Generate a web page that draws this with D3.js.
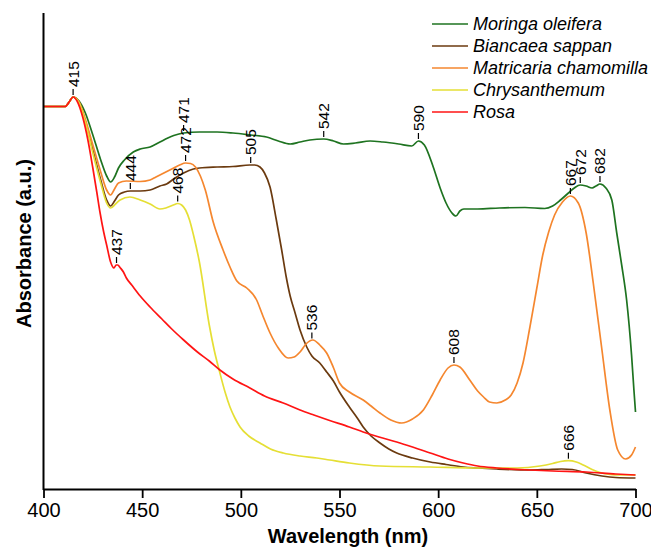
<!DOCTYPE html>
<html>
<head>
<meta charset="utf-8">
<script src="https://cdn.jsdelivr.net/npm/d3@7"></script>
<style>
  html, body { margin: 0; padding: 0; background: #fff; }
  svg { display: block; font-family: Arial, "Liberation Sans", sans-serif; }
</style>
</head>
<body>
<svg id="chart"></svg>
<script>
// ─── Data (wavelength in nm, absorbance in a.u.) ───────────────────────────
const seriesNames = ["Moringa oleifera", "Biancaea sappan", "Matricaria chamomilla", "Chrysanthemum", "Rosa"];
const seriesColors = ["#1e7320", "#6b3a0f", "#f5872f", "#e5df35", "#ff1414"];

const moringaNm = [400, 411, 413, 415, 418, 421, 425, 429, 432, 434, 436, 438, 441, 445.5, 449, 454, 459, 463, 466, 471, 479, 488, 496, 505, 513, 519, 525, 530, 535, 542, 547, 552, 558, 565.5, 572, 580, 586.6, 590, 593, 597.5, 601, 604, 607, 609, 611, 613, 620, 631, 644, 654, 658, 662, 666, 669, 672, 675, 678, 680, 682, 685, 688, 690.5, 693, 695.5, 698, 699.2, 700];
const moringaAbs = [3.825, 3.825, 3.87, 3.92, 3.88, 3.77, 3.54, 3.29, 3.13, 3.07, 3.12, 3.21, 3.29, 3.37, 3.40, 3.42, 3.47, 3.51, 3.535, 3.56, 3.57, 3.57, 3.56, 3.54, 3.52, 3.48, 3.45, 3.47, 3.49, 3.50, 3.48, 3.45, 3.46, 3.48, 3.47, 3.45, 3.43, 3.48, 3.44, 3.22, 3.01, 2.86, 2.76, 2.73, 2.78, 2.80, 2.80, 2.81, 2.815, 2.805, 2.83, 2.89, 2.96, 3.01, 3.04, 3.03, 3.01, 3.03, 3.05, 3.01, 2.89, 2.56, 2.24, 1.89, 1.34, 0.99, 0.77];

const biancaeaNm = [400, 411, 413, 415, 418, 421, 425, 429, 432, 434, 436, 438, 441, 444, 449, 454, 459, 462.4, 466, 471, 476, 479, 488, 496, 504.6, 507, 509.7, 512, 514.8, 518, 520.7, 523, 525, 527.5, 530, 533.4, 536, 540, 543.5, 546.9, 550, 555, 559, 562, 566, 570.5, 575, 579, 587, 596, 604, 612.7, 620, 629.7, 646.5, 655, 662.6, 668, 675, 683, 690, 700];
const biancaeaAbs = [3.825, 3.825, 3.87, 3.92, 3.86, 3.69, 3.39, 3.09, 2.89, 2.83, 2.88, 2.94, 2.97, 2.98, 2.98, 2.99, 3.03, 3.05, 3.10, 3.16, 3.20, 3.21, 3.22, 3.225, 3.24, 3.24, 3.22, 3.16, 3.02, 2.69, 2.39, 2.12, 1.93, 1.76, 1.59, 1.42, 1.33, 1.26, 1.17, 1.08, 0.97, 0.82, 0.71, 0.62, 0.53, 0.46, 0.40, 0.36, 0.31, 0.27, 0.245, 0.22, 0.21, 0.20, 0.19, 0.195, 0.20, 0.195, 0.16, 0.13, 0.115, 0.11];

const matricariaNm = [400, 411, 413, 415, 418, 421, 425, 429, 432, 434, 436, 438, 442, 449, 454, 457, 461, 466, 469, 472, 474.5, 477, 479.5, 482, 486, 491, 494.5, 498, 503, 508, 511, 514.8, 519, 524, 527, 530, 533, 536.5, 540, 543.5, 547, 550, 555, 562, 566, 570.5, 576, 581.5, 587, 592.5, 597, 601, 605, 608, 611, 616, 620, 623, 626, 629.7, 634, 637, 640, 643, 646.5, 650, 653, 656, 659, 663, 667, 671, 675, 678.6, 683, 687, 691, 695, 698, 700];
const matricariaAbs = [3.825, 3.825, 3.87, 3.92, 3.87, 3.71, 3.44, 3.17, 2.99, 2.94, 3.00, 3.06, 3.08, 3.075, 3.09, 3.12, 3.16, 3.21, 3.24, 3.26, 3.255, 3.22, 3.13, 2.99, 2.67, 2.39, 2.22, 2.08, 2.01, 1.89, 1.74, 1.56, 1.41, 1.31, 1.32, 1.37, 1.45, 1.49, 1.44, 1.36, 1.21, 1.06, 0.97, 0.89, 0.83, 0.76, 0.69, 0.66, 0.70, 0.79, 0.94, 1.09, 1.21, 1.24, 1.22, 1.09, 0.98, 0.92, 0.87, 0.86, 0.89, 0.94, 1.06, 1.26, 1.62, 2.01, 2.34, 2.57, 2.74, 2.87, 2.93, 2.86, 2.56, 2.06, 1.39, 0.79, 0.39, 0.30, 0.34, 0.42];

const chrysNm = [400, 411, 413, 415, 418, 421, 425, 429, 432, 434, 436.5, 438.8, 443.8, 449, 454, 459, 462, 465.8, 468, 470, 472, 474, 476, 479, 484, 486.5, 489.4, 492, 494.5, 497, 499.6, 504, 509.7, 515, 521.5, 530, 538.5, 545, 555, 570.5, 596, 620, 640, 651.6, 658, 662, 666, 670, 673.5, 678, 682, 687, 692, 700];
const chrysAbs = [3.825, 3.825, 3.87, 3.92, 3.86, 3.68, 3.36, 3.06, 2.86, 2.81, 2.85, 2.89, 2.92, 2.89, 2.85, 2.80, 2.81, 2.84, 2.855, 2.84, 2.79, 2.69, 2.54, 2.27, 1.64, 1.39, 1.16, 0.97, 0.82, 0.71, 0.62, 0.53, 0.46, 0.40, 0.36, 0.33, 0.31, 0.29, 0.26, 0.23, 0.22, 0.21, 0.21, 0.23, 0.255, 0.275, 0.283, 0.27, 0.24, 0.195, 0.165, 0.145, 0.14, 0.14];

const rosaNm = [400, 411, 413, 415, 417, 420, 422.5, 425, 427, 428.6, 430.5, 432, 434, 435.7, 436.8, 437.6, 439, 440.5, 442, 444.7, 449, 454, 460, 465, 471, 478, 484, 489.4, 496, 504.6, 512, 521.5, 530, 537, 545, 555, 562, 570, 579, 587, 596, 605, 612.7, 620, 629.7, 646.5, 658, 675, 690, 700];
const rosaAbs = [3.825, 3.825, 3.87, 3.92, 3.88, 3.71, 3.49, 3.21, 2.97, 2.77, 2.57, 2.44, 2.27, 2.21, 2.24, 2.24, 2.21, 2.17, 2.11, 2.04, 1.93, 1.82, 1.70, 1.60, 1.49, 1.37, 1.28, 1.19, 1.10, 1.01, 0.93, 0.86, 0.79, 0.74, 0.685, 0.62, 0.57, 0.52, 0.47, 0.42, 0.36, 0.30, 0.26, 0.23, 0.21, 0.19, 0.18, 0.17, 0.15, 0.14];

// peak annotations: series index, wavelength
const peakSeries = [4, 4, 0, 0, 0, 0, 0, 1, 1, 2, 2, 2, 2, 3, 3];
const peakNm     = [415, 437, 471, 542, 590, 672, 682, 444, 505, 472, 536, 608, 667, 468, 666];

const xTicks = [400, 450, 500, 550, 600, 650, 700];

// ─── Layout ────────────────────────────────────────────────────────────────
const W = 651, H = 547;
const MARGIN = { top: 13, right: 15.5, bottom: 58, left: 43.5 };

const svg = d3.select("#chart").attr("width", W).attr("height", H);

const x = d3.scaleLinear().domain([400, 700]).range([MARGIN.left, W - MARGIN.right]);
const y = d3.scaleLinear().domain([0, 4.76]).range([H - MARGIN.bottom, MARGIN.top]);

const allNm  = [moringaNm, biancaeaNm, matricariaNm, chrysNm, rosaNm];
const allAbs = [moringaAbs, biancaeaAbs, matricariaAbs, chrysAbs, rosaAbs];

const series = seriesNames.map((name, i) => ({
  name, color: seriesColors[i],
  points: allNm[i].map((nm, j) => ({ nm, a: allAbs[i][j] }))
}));

// ─── Lines ────────────────────────────────────────────────────────────────
const line = d3.line().x(d => x(d.nm)).y(d => y(d.a)).curve(d3.curveMonotoneX);

svg.append("g").selectAll("path")
  .data(series).join("path")
  .attr("d", d => line(d.points))
  .attr("fill", "none")
  .attr("stroke", d => d.color)
  .attr("stroke-width", 1.7)
  .attr("stroke-linejoin", "round");

// ─── Peak labels ───────────────────────────────────────────────────────────
function absAt(s, nm) {
  const pts = series[s].points;
  const k = d3.bisector(d => d.nm).left(pts, nm);
  if (pts[k].nm === nm || k === 0) return pts[k].a;
  const p0 = pts[k - 1], p1 = pts[k];
  return p0.a + (p1.a - p0.a) * (nm - p0.nm) / (p1.nm - p0.nm);
}

const peaks = peakNm.map((nm, i) => ({ nm, s: peakSeries[i] }));
const peakG = svg.append("g");
peaks.forEach(p => {
  const px = x(p.nm), py = y(absAt(p.s, p.nm));
  peakG.append("line")
    .attr("x1", px).attr("x2", px)
    .attr("y1", py - 2).attr("y2", py - 8)
    .attr("stroke", "#000").attr("stroke-width", 1.2);
  peakG.append("text")
    .attr("transform", `translate(${px + 5.5},${py - 10}) rotate(-90)`)
    .attr("font-size", "15.5px")
    .attr("fill", "#000")
    .text(p.nm);
});

// ─── Axes ──────────────────────────────────────────────────────────────────
const xAxis = svg.append("g")
  .attr("transform", `translate(0,${H - MARGIN.bottom})`)
  .call(d3.axisBottom(x).tickValues(xTicks).tickSize(9).tickSizeOuter(0).tickPadding(5));
xAxis.select(".domain").attr("stroke", "#000").attr("stroke-width", 2);
xAxis.selectAll(".tick line").attr("stroke", "#000").attr("stroke-width", 1.8);
xAxis.selectAll(".tick text")
  .attr("font-family", "Arial, 'Liberation Sans', sans-serif")
  .attr("font-size", "20px").attr("fill", "#000");

svg.append("line")
  .attr("x1", MARGIN.left).attr("x2", MARGIN.left)
  .attr("y1", MARGIN.top).attr("y2", H - MARGIN.bottom + 1)
  .attr("stroke", "#000").attr("stroke-width", 2);

svg.append("text")
  .attr("x", 348).attr("y", 543)
  .attr("text-anchor", "middle")
  .attr("font-size", "20px").attr("font-weight", "bold")
  .text("Wavelength (nm)");

svg.append("text")
  .attr("transform", "translate(31,243.5) rotate(-90)")
  .attr("text-anchor", "middle")
  .attr("font-size", "20px").attr("font-weight", "bold")
  .text("Absorbance (a.u.)");

// ─── Legend ────────────────────────────────────────────────────────────────
const legend = svg.append("g");
series.forEach((s, i) => {
  const ly = 24 + i * 22;
  legend.append("line")
    .attr("x1", 432).attr("x2", 468).attr("y1", ly).attr("y2", ly)
    .attr("stroke", s.color).attr("stroke-width", 1.7);
  legend.append("text")
    .attr("x", 473).attr("y", ly + 6)
    .attr("font-size", "18px").attr("font-style", "italic")
    .text(s.name);
});
</script>
</body>
</html>
